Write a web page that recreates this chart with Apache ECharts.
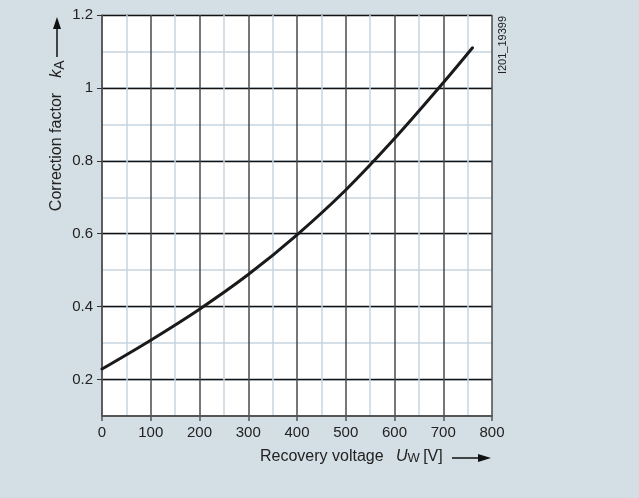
<!DOCTYPE html>
<html>
<head>
<meta charset="utf-8">
<script src="https://cdn.jsdelivr.net/npm/echarts@6/dist/echarts.min.js"></script>
<style>
html,body{margin:0;padding:0;background:#d4dee5;}
#c{width:639px;height:498px;}
</style>
</head>
<body>
<div id="c"></div>
<script>
// Data
const voltage = [0, 100, 200, 300, 400, 500, 600, 700, 760];
const kA      = [0.229, 0.308, 0.393, 0.488, 0.597, 0.72, 0.861, 1.014, 1.11];
const yTicks  = [0.2, 0.4, 0.6, 0.8, 1, 1.2];
const xTicks  = [0, 100, 200, 300, 400, 500, 600, 700, 800];

const chart = echarts.init(document.getElementById('c'), null, {renderer: 'canvas'});
const font = 'Liberation Sans, Arial, sans-serif';
const majorV = '#4a4a4a', majorH = '#111', minor = '#c6d5e1', axisC = '#555';

chart.setOption({
  backgroundColor: '#d4dee5',
  animation: false,
  grid: {left: 102, right: 147, top: 15, bottom: 82, show: true, backgroundColor: '#fff', borderWidth: 0},
  xAxis: {
    type: 'value', min: 0, max: 800, interval: 100,
    axisLine: {show: true, onZero: false, lineStyle: {color: axisC, width: 2}},
    axisTick: {show: true, length: 5, inside: false, lineStyle: {color: axisC, width: 1.5}},
    axisLabel: {color: '#222', fontSize: 15, fontFamily: font, margin: 9, customValues: xTicks},
    splitLine: {show: true, showMinLine: true, showMaxLine: true, lineStyle: {color: majorV, width: 1.5}},
    minorTick: {show: false, splitNumber: 2},
    minorSplitLine: {show: true, lineStyle: {color: minor, width: 1.5}}
  },
  yAxis: [{
    // fine grid every 0.1
    type: 'value', min: 0.1, max: 1.2, interval: 0.1,
    axisLine: {show: false}, axisTick: {show: false}, axisLabel: {show: false},
    splitLine: {show: true, lineStyle: {color: minor, width: 1.5}}
  }, {
    // major grid, ticks and labels every 0.2
    type: 'value', min: 0.1, max: 1.2, position: 'left', offset: 0,
    axisLine: {show: true, onZero: false, lineStyle: {color: axisC, width: 1.5}},
    axisTick: {show: true, length: 5, customValues: yTicks, lineStyle: {color: '#333', width: 1}},
    axisLabel: {color: '#222', fontSize: 15, fontFamily: font, margin: 9, customValues: yTicks},
    splitLine: {show: true, lineStyle: {color: majorH, width: 1.3}}
  }],
  series: [{
    type: 'line',
    yAxisIndex: 0,
    data: voltage.map((v, i) => [v, kA[i]]),
    smooth: 0.35,
    symbol: 'none',
    lineStyle: {color: '#1a1a1a', width: 3, cap: 'round'},
    z: 5
  }],
  graphic: [
    {type: 'text', x: 57, y: 152, rotation: Math.PI / 2,
     style: {text: 'Correction factor', fontSize: 16, fontFamily: font, fill: '#222', align: 'center', verticalAlign: 'middle'}},
    {type: 'text', x: 57, y: 69, rotation: Math.PI / 2,
     style: {text: '{k|k}{a|A}', align: 'center', verticalAlign: 'middle',
       rich: {k: {fontSize: 16, fontStyle: 'italic', fontFamily: font, fill: '#222'},
              a: {fontSize: 14, fontFamily: font, fill: '#222', padding: [6, 0, 0, 0]}}}},
    {type: 'line', shape: {x1: 57, y1: 57, x2: 57, y2: 27}, style: {stroke: '#111', lineWidth: 1.5}},
    {type: 'polygon', shape: {points: [[57, 17], [53, 29], [61, 29]]}, style: {fill: '#111'}},
    {type: 'text', x: 260, y: 457,
     style: {text: 'Recovery voltage', fontSize: 16, fontFamily: font, fill: '#222', align: 'left', verticalAlign: 'middle'}},
    {type: 'text', x: 396, y: 457,
     style: {text: '{u|U}{w|W} {v|[V]}', align: 'left', verticalAlign: 'middle',
       rich: {u: {fontSize: 16, fontStyle: 'italic', fontFamily: font, fill: '#222'},
              w: {fontSize: 13, fontFamily: font, fill: '#222', padding: [3, 0, 0, 0]},
              v: {fontSize: 16, fontFamily: font, fill: '#222'}}}},
    {type: 'line', shape: {x1: 452, y1: 458, x2: 480, y2: 458}, style: {stroke: '#111', lineWidth: 1.5}},
    {type: 'polygon', shape: {points: [[491, 458], [478, 454], [478, 462]]}, style: {fill: '#111'}},
    {type: 'text', x: 503, y: 45, rotation: Math.PI / 2,
     style: {text: 'I201_19399', fontSize: 11, fontFamily: font, fill: '#222', align: 'center', verticalAlign: 'middle'}}
  ]
});
</script>
</body>
</html>
